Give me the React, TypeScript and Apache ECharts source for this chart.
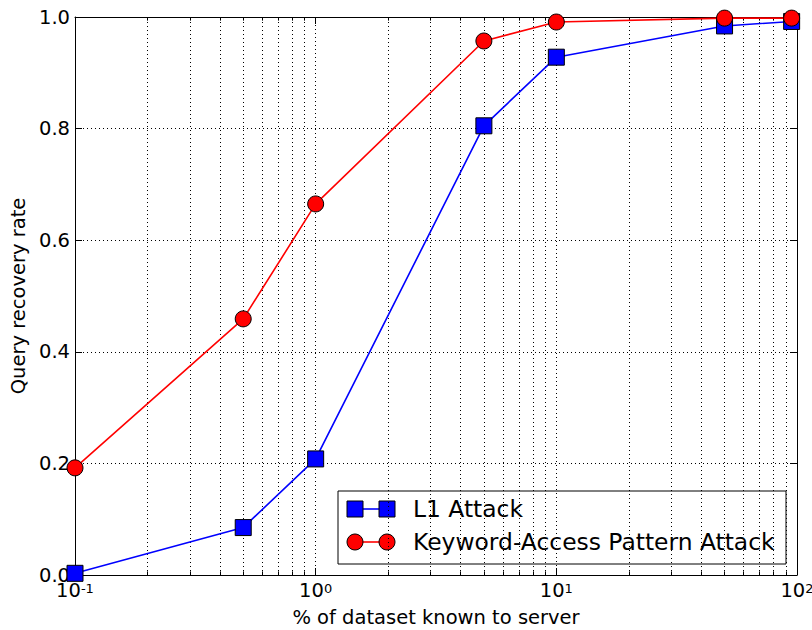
import React, { useEffect, useRef } from "react";
import * as echarts from "echarts";

const xValues = [0.1, 0.5, 1, 5, 10, 50, 95];
const l1Attack = [0.003, 0.085, 0.208, 0.805, 0.928, 0.984, 0.992];
const kapAttack = [0.192, 0.459, 0.665, 0.957, 0.991, 0.998, 0.998];
const seriesNames = ["L1 Attack", "Keyword-Access Pattern Attack"];
const minorXTicks = [0.2, 0.3, 0.4, 0.5, 0.6, 0.7, 0.8, 0.9, 2, 3, 4, 5, 6, 7, 8, 9, 20, 30, 40, 50, 60, 70, 80, 90];
const xAxisTitle = "% of dataset known to server";
const yAxisTitle = "Query recovery rate";

const FONT = "DejaVu Sans";

export default function App() {
  const ref = useRef<HTMLDivElement>(null);
  useEffect(() => {
    if (!ref.current) return;
    const chart = echarts.init(ref.current, undefined, { renderer: "svg" });
    const dotted = { color: "#000", width: 1, type: [1, 3] as any };
    const minorGridLines = minorXTicks.map((v) => ({ xAxis: v }));
    const minorTickMarks: any[] = [];
    minorXTicks.forEach((v) => {
      minorTickMarks.push([{ coord: [v, 0] }, { coord: [v, 0.0065] }]);
      minorTickMarks.push([{ coord: [v, 1] }, { coord: [v, 1 - 0.0065] }]);
    });
    const xLabelFmt = (v: number) => {
      const e = Math.round(Math.log10(v));
      return `{b|10}{s|${e}}`;
    };
    const commonAxisLine = { show: true, lineStyle: { color: "#000", width: 1 } };
    chart.setOption({
      animation: false,
      grid: { left: 75, right: 15, top: 17, bottom: 55, containLabel: false, outerBoundsMode: "none" },
      xAxis: [
        {
          type: "log",
          logBase: 10,
          min: 0.1,
          max: 100,
          position: "bottom",
          name: xAxisTitle,
          nameLocation: "middle",
          nameGap: 31,
          nameTextStyle: { fontFamily: FONT, fontSize: 19.5, color: "#000" },
          axisLine: { ...commonAxisLine, onZero: false },
          axisTick: { show: true, inside: true, length: 7, lineStyle: { color: "#000" } },
          axisLabel: {
            formatter: xLabelFmt,
            margin: 7,
            rich: {
              b: { fontFamily: FONT, fontSize: 19.5, color: "#000", lineHeight: 16 },
              s: { fontFamily: FONT, fontSize: 13, color: "#000", lineHeight: 16, verticalAlign: "top", padding: [0, 0, 8, 0] },
            },
          },
          splitLine: { show: true, lineStyle: dotted },
        },
        {
          type: "log",
          logBase: 10,
          min: 0.1,
          max: 100,
          position: "top",
          axisLine: { ...commonAxisLine, onZero: false },
          axisTick: { show: true, inside: true, length: 7, lineStyle: { color: "#000" } },
          axisLabel: { show: false },
          splitLine: { show: false },
        },
      ],
      yAxis: [
        {
          type: "value",
          min: 0,
          max: 1,
          interval: 0.2,
          position: "left",
          name: yAxisTitle,
          nameLocation: "middle",
          nameGap: 46,
          nameTextStyle: { fontFamily: FONT, fontSize: 19.5, color: "#000" },
          axisLine: commonAxisLine,
          axisTick: { show: true, inside: true, length: 7, lineStyle: { color: "#000" } },
          axisLabel: {
            formatter: (v: number) => v.toFixed(1),
            fontFamily: FONT,
            fontSize: 19.5,
            lineHeight: 14,
            color: "#000",
            margin: 5,
          },
          splitLine: { show: true, lineStyle: dotted },
        },
        {
          type: "value",
          min: 0,
          max: 1,
          interval: 0.2,
          position: "right",
          axisLine: commonAxisLine,
          axisTick: { show: true, inside: true, length: 7, lineStyle: { color: "#000" } },
          axisLabel: { show: false },
          splitLine: { show: false },
        },
      ],
      series: [
        {
          type: "line",
          name: "grid",
          data: [],
          z: 1,
          silent: true,
          markLine: {
            silent: true,
            z: 1,
            symbol: "none",
            label: { show: false },
            animation: false,
            lineStyle: dotted,
            data: minorGridLines,
          },
        },
        {
          type: "line",
          name: "ticks",
          data: [],
          z: 1,
          silent: true,
          markLine: {
            silent: true,
            z: 1,
            symbol: "none",
            label: { show: false },
            animation: false,
            lineStyle: { color: "#000", width: 1, type: "solid" },
            data: minorTickMarks,
          },
        },
        {
          type: "line",
          name: seriesNames[0],
          data: xValues.map((x, i) => [x, l1Attack[i]]),
          symbol: "rect",
          symbolSize: 16,
          showAllSymbol: true,
          clip: false,
          z: 3,
          lineStyle: { color: "#0000ff", width: 1.6 },
          itemStyle: { color: "#0000ff", borderColor: "#000", borderWidth: 1 },
        },
        {
          type: "line",
          name: seriesNames[1],
          data: xValues.map((x, i) => [x, kapAttack[i]]),
          symbol: "circle",
          symbolSize: 16,
          showAllSymbol: true,
          clip: false,
          z: 4,
          lineStyle: { color: "#ff0000", width: 1.6 },
          itemStyle: { color: "#ff0000", borderColor: "#000", borderWidth: 1 },
        },
      ],
      graphic: [
        {
          type: "group",
          z: 100,
          children: [
            {
              type: "rect",
              shape: { x: 338, y: 491, width: 448, height: 73 },
              style: { fill: "#fff", stroke: "#000", lineWidth: 1 },
            },
            { type: "line", shape: { x1: 355, y1: 509, x2: 387, y2: 509 }, style: { stroke: "#0000ff", lineWidth: 1.6 } },
            { type: "rect", shape: { x: 347, y: 501, width: 16, height: 16 }, style: { fill: "#0000ff", stroke: "#000", lineWidth: 1 } },
            { type: "rect", shape: { x: 379, y: 501, width: 16, height: 16 }, style: { fill: "#0000ff", stroke: "#000", lineWidth: 1 } },
            {
              type: "text",
              x: 413,
              y: 509,
              style: { text: seriesNames[0], fontFamily: FONT, fontSize: 23.4, fill: "#000", verticalAlign: "middle" },
            },
            { type: "line", shape: { x1: 355, y1: 542, x2: 387, y2: 542 }, style: { stroke: "#ff0000", lineWidth: 1.6 } },
            { type: "circle", shape: { cx: 355, cy: 542, r: 8 }, style: { fill: "#ff0000", stroke: "#000", lineWidth: 1 } },
            { type: "circle", shape: { cx: 387, cy: 542, r: 8 }, style: { fill: "#ff0000", stroke: "#000", lineWidth: 1 } },
            {
              type: "text",
              x: 413,
              y: 542,
              style: { text: seriesNames[1], fontFamily: FONT, fontSize: 23.4, fill: "#000", verticalAlign: "middle" },
            },
          ],
        },
      ],
    });
    return () => chart.dispose();
  }, []);
  return (
    <div
      ref={ref}
      style={{ position: "fixed", left: 0, top: 0, width: 812, height: 630, background: "#fff" }}
    />
  );
}
